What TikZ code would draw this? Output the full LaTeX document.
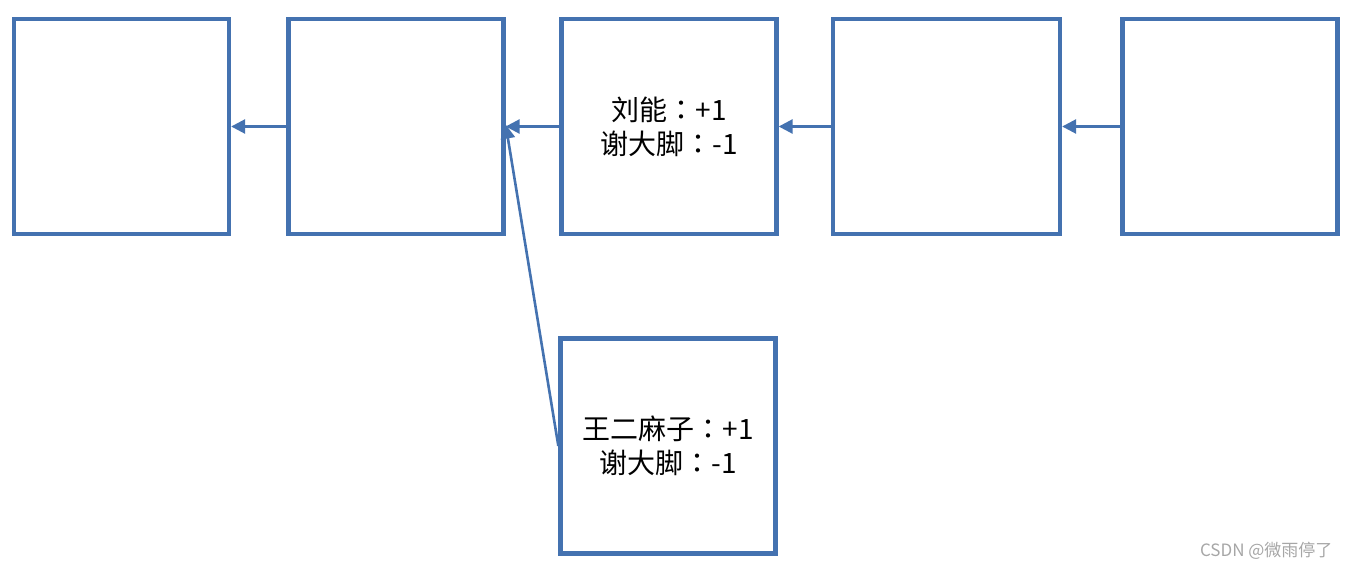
\documentclass[tikz,border=0pt]{standalone}
\usepackage{fontspec}
\setmainfont{Noto Sans CJK SC}
\newfontfamily\tcfont{Noto Sans CJK TC}
\newcommand{\cc}{{\tcfont ：}}
\usetikzlibrary{arrows.meta}
\definecolor{boxblue}{RGB}{68,114,176}
\begin{document}
\begin{tikzpicture}[x=1pt,y=-1pt,
  blk/.style={draw=boxblue,line width=4.3pt,minimum width=215pt,minimum height=215pt,inner sep=0pt,font=\fontsize{28}{34}\selectfont,align=center},
  conn/.style={draw=boxblue,line width=2.6pt,-{Triangle[length=14pt,width=14pt]}}]
\useasboundingbox (0,0) rectangle (1349,570);
\node[blk] (b1) at (121.5,126.5) {};
\node[blk] (b2) at (396,126.5) {};
\node[blk] (b3) at (669,126.5) {刘能\cc+1\\谢大脚\cc-1};
\node[blk,minimum width=227pt] (b4) at (946.5,126.5) {};
\node[blk] (b5) at (1230,126.5) {};
\node[blk] (b6) at (668,446) {王二麻子\cc+1\\谢大脚\cc-1};
\draw[conn] (b2.west) -- (b1.east);
\draw[conn] (b3.west) -- (b2.east);
\draw[conn] (b4.west) -- (b3.east);
\draw[conn] (b5.west) -- (b4.east);
\coordinate (t6) at ([yshift=2pt]b2.east);
\draw[conn] (b6.west) -- (t6);
\node[text=gray!70,font=\fontsize{17}{19}\selectfont,anchor=east] (wm) at (1336,551) {CSDN @微雨停了};
\end{tikzpicture}
\end{document}
